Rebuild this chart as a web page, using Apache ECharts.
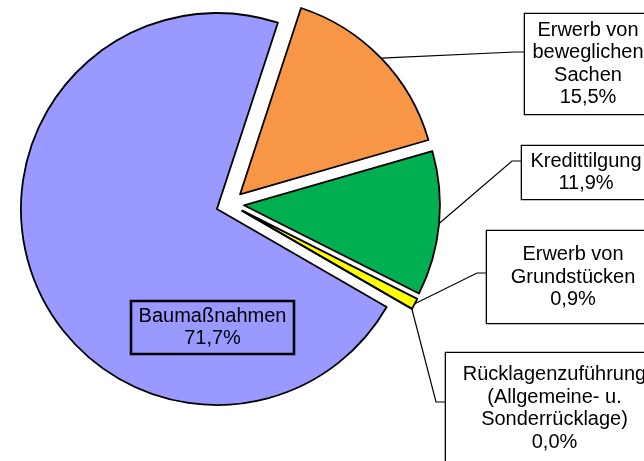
<!DOCTYPE html>
<html><head><meta charset="utf-8">
<script src="https://cdn.jsdelivr.net/npm/echarts@6/dist/echarts.min.js"></script>
<style>html,body{margin:0;padding:0;background:#fff}#c{width:644px;height:461px}</style>
</head><body><div id="c"></div>
<script>
// ---- data ----
const categories = ['Baumaßnahmen', 'Erwerb von beweglichen Sachen', 'Kredittilgung', 'Erwerb von Grundstücken', 'Rücklagenzuführung (Allgemeine- u. Sonderrücklage)'];
const labelTexts = [
  ['Baumaßnahmen'],
  ['Erwerb von', 'beweglichen', 'Sachen'],
  ['Kredittilgung'],
  ['Erwerb von', 'Grundstücken'],
  ['Rücklagenzuführung', '(Allgemeine- u.', 'Sonderrücklage)']
];
const values = [71.7, 15.5, 11.9, 0.9, 0.0];

// ---- styles / layout (kept apart from data) ----
const colors = ['#9999FF', '#F79646', '#00B050', '#FFFF00', '#FF0000'];
const LINE_H = 22.5;
// label boxes: outer left / top / width / height, and y where the leader line meets the box
const labelBoxes = [
  { left: 131, top: 301, width: 163, height: 53, inside: true },
  { left: 525, top: 14,  width: 126, height: 100, lineY: 52 },
  { left: 522, top: 146, width: 128, height: 53,  lineY: 161 },
  { left: 487, top: 231, width: 172, height: 92,  lineY: 273 },
  { left: 446, top: 353, width: 217, height: 111, lineY: 402 }
];
const CENTER = [230, 204];
const RADIUS = 196;
const EXPLODE = 14;
const START_ANGLE = -30;

const fmtPct = v => v.toFixed(1).replace('.', ',') + '%';
const nLines = i => labelTexts[i].length + 1;
const padOf = i => {
  const b = labelBoxes[i];
  const padV = Math.max(0, (b.height - nLines(i) * LINE_H) / 2);
  return [padV, 0];
};

const mainData = categories.map((name, i) => ({
  name: name,
  value: values[i],
  selected: true,
  itemStyle: { color: colors[i] }
}));

const labelData = categories.map((name, i) => {
  const b = labelBoxes[i];
  const item = {
    name: name,
    value: values[i],
    label: {
      width: b.width,
      padding: padOf(i),
      backgroundColor: b.inside ? 'transparent' : '#ffffff'
    }
  };
  if (b.inside) {
    item.label.position = 'inside';
    item.labelLine = { show: false };
  }
  return item;
});

const chart = echarts.init(document.getElementById('c'), null, { renderer: 'canvas' });
chart.setOption({
  animation: false,
  backgroundColor: '#ffffff',
  series: [{
    type: 'pie',
    center: CENTER,
    radius: RADIUS,
    startAngle: START_ANGLE,
    clockwise: true,
    selectedMode: 'multiple',
    selectedOffset: EXPLODE,
    silent: true,
    data: mainData,
    itemStyle: { borderColor: '#000000', borderWidth: 1.8 },
    emphasis: { disabled: true },
    select: { itemStyle: { borderColor: '#000000', borderWidth: 1.8 } },
    label: { show: false },
    labelLine: { show: false },
    z: 2
  }, {
    // transparent copy of the same slices that carries the labels
    type: 'pie',
    center: CENTER,
    radius: RADIUS + EXPLODE,
    startAngle: START_ANGLE,
    clockwise: true,
    silent: true,
    avoidLabelOverlap: false,
    data: labelData,
    itemStyle: { color: 'rgba(0,0,0,0)', borderWidth: 0 },
    emphasis: { disabled: true },
    label: {
      show: true,
      position: 'outside',
      formatter: p => labelTexts[p.dataIndex].join('\n') + '\n' + fmtPct(p.value),
      color: '#000000',
      fontFamily: '"Liberation Sans", Arial, sans-serif',
      fontSize: 20,
      lineHeight: LINE_H,
      align: 'center',
      borderColor: '#000000',
      borderWidth: 1.3,
      overflow: 'none'
    },
    labelLine: {
      show: true,
      length: 10,
      length2: 10,
      lineStyle: { color: '#000000', width: 1.2 }
    },
    labelLayout: function (params) {
      const i = params.dataIndex;
      const b = labelBoxes[i];
      const res = {
        x: b.left + b.width / 2,
        y: b.top + b.height / 2,
        align: 'center',
        verticalAlign: 'middle'
      };
      if (!b.inside && params.labelLinePoints && params.labelLinePoints.length) {
        const start = params.labelLinePoints[0];
        res.labelLinePoints = [
          [start[0], start[1]],
          [b.left - 10, b.lineY],
          [b.left, b.lineY]
        ];
      }
      return res;
    },
    z: 3
  }]
});
</script>
</body></html>
